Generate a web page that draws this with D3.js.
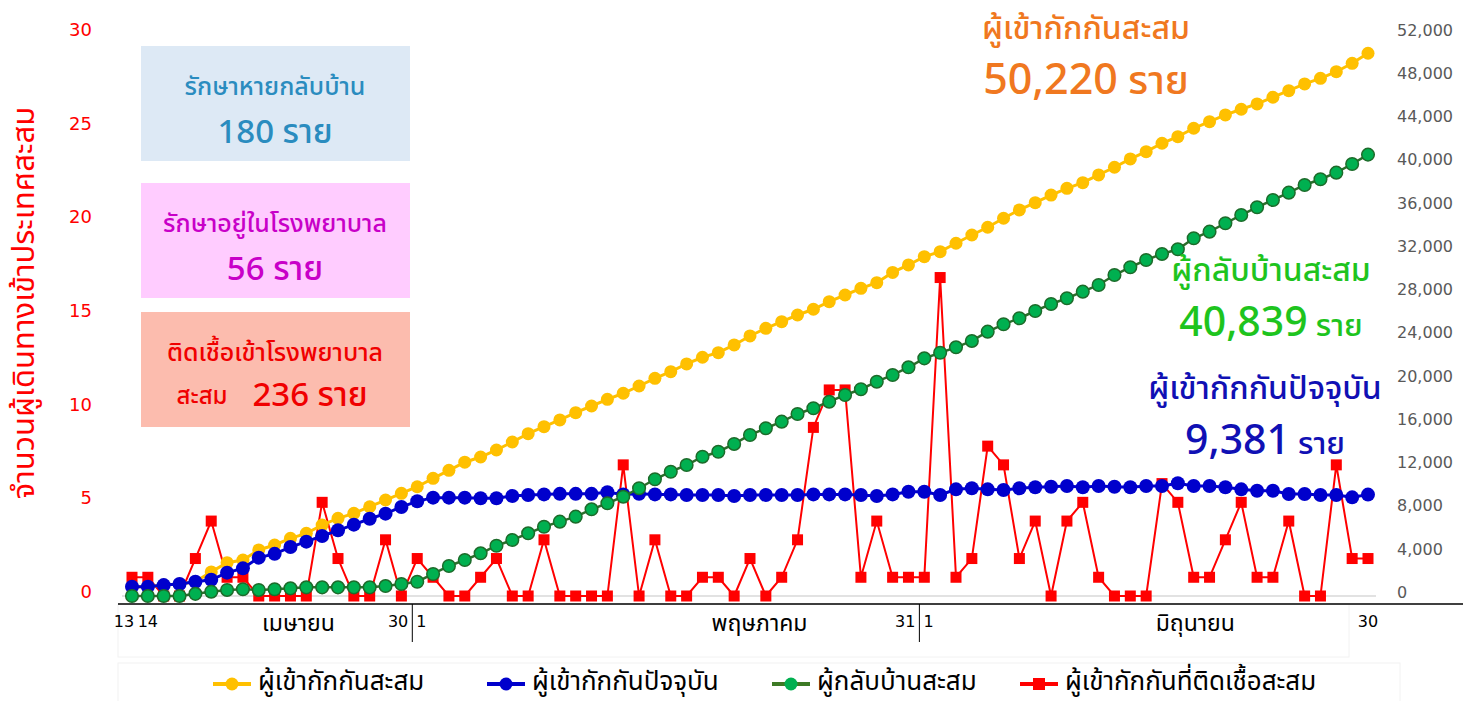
<!DOCTYPE html>
<html>
<head>
<meta charset="utf-8">
<title>ผู้เข้ากักกัน</title>
<script src="https://d3js.org/d3.v7.min.js"></script>
<style>
  body { margin: 0; background: #fff; }
  svg { display: block; }
  text { font-family: "Noto Sans Thai", "Leelawadee UI", Tahoma, "Noto Sans", "DejaVu Sans", sans-serif; }
</style>
</head>
<body>
<svg width="1468" height="701"></svg>
<script>
// ข้อมูลรายวัน 13 เม.ย. - 30 มิ.ย. (อ่านจากภาพ)
const quarantinedTotal = [
  860, 860, 1020, 1110, 1320, 2230, 3080, 3330, 4260, 4720,
  5340, 5800, 6570, 7190, 7650, 8260, 8880, 9500, 10110, 10890,
  11630, 12380, 12860, 13510, 14250, 15020, 15670, 16290, 16960, 17580,
  18200, 18760, 19430, 20140, 20760, 21470, 22090, 22510, 23230, 24060,
  24770, 25380, 26000, 26530, 27230, 27850, 28470, 28990, 29940, 30630,
  31400, 31860, 32640, 33400, 34120, 34950, 35720, 36390, 37100, 37720,
  38240, 38960, 39670, 40440, 41110, 41890, 42500, 43280, 43890, 44510,
  45040, 45530, 46150, 46760, 47380, 47900, 48510, 49290, 50220
];
const quarantinedNow = [
  860, 860, 1010, 1110, 1320, 1500, 2160, 2560, 3550, 3900,
  4530, 5030, 5550, 6080, 6600, 7150, 7620, 8240, 8760, 9100,
  9100, 9100, 9050, 9050, 9250, 9350, 9400, 9450, 9450, 9450,
  9600, 9400, 9450, 9400, 9400, 9350, 9350, 9350, 9250, 9350,
  9350, 9350, 9350, 9400, 9400, 9400, 9350, 9250, 9400, 9650,
  9650, 9350, 9870, 9970, 9870, 9810, 9970, 10060, 10110, 10180,
  10060, 10180, 10110, 10060, 10180, 10180, 10430, 10180, 10180, 10060,
  9870, 9740, 9740, 9440, 9440, 9350, 9350, 9130, 9381
];
const returnedHome = [
  0, 0, 0, 0, 200, 400, 560, 620, 560, 620,
  710, 800, 800, 800, 800, 800, 920, 1110, 1320, 2040,
  2780, 3330, 3950, 4650, 5180, 5800, 6410, 6880, 7340, 8020,
  8580, 9190, 9970, 10800, 11500, 12120, 12890, 13350, 14070, 14900,
  15520, 16130, 16840, 17370, 17980, 18600, 19130, 19830, 20450, 21160,
  21990, 22510, 23010, 23600, 24460, 25140, 25700, 26370, 27020, 27550,
  28160, 28780, 29700, 30420, 31090, 31650, 32080, 33100, 33710, 34490,
  35250, 35970, 36640, 37320, 38030, 38560, 39170, 39970, 40839
];
const infected = [
  1, 1, 0, 0, 2, 4, 1, 1, 0, 0,
  0, 0, 5, 2, 0, 0, 3, 0, 2, 1,
  0, 0, 1, 2, 0, 0, 3, 0, 0, 0,
  0, 7, 0, 3, 0, 0, 1, 1, 0, 2,
  0, 1, 3, 9, 11, 11, 1, 4, 1, 1,
  1, 17, 1, 2, 8, 7, 2, 4, 0, 4,
  5, 1, 0, 0, 0, 6, 5, 1, 1, 3,
  5, 1, 1, 4, 0, 0, 7, 2, 2
];

// ป้ายแกน
const dayTicks = [[0, "13"], [1, "14"], [17, "30"], [18, "1"], [49, "31"], [50, "1"], [78, "30"]];
const monthTicks = [[10.5, "เมษายน"], [39.6, "พฤษภาคม"], [67.1, "มิถุนายน"]];
const monthBreaks = [17.5, 49.5];
const leftTicks = [0, 5, 10, 15, 20, 25, 30];
const rightTicks = [0, 4000, 8000, 12000, 16000, 20000, 24000, 28000, 32000, 36000, 40000, 44000, 48000, 52000];

const seriesNames = ["ผู้เข้ากักกันสะสม", "ผู้เข้ากักกันปัจจุบัน", "ผู้กลับบ้านสะสม", "ผู้เข้ากักกันที่ติดเชื้อสะสม"];

const svg = d3.select("svg");
const n = quarantinedTotal.length;

const x = d3.scaleLinear().domain([0, n - 1]).range([132, 1368]);
const yL = d3.scaleLinear().domain([0, 30]).range([596, 34]);
const yR = d3.scaleLinear().domain([0, 52000]).range([596, 34]);

// กรอบจาง ๆ รอบป้ายแกน x และคำอธิบาย
svg.append("rect").attr("x", 118).attr("y", 604).attr("width", 1231).attr("height", 53)
  .attr("fill", "none").attr("stroke", "#f2f2f2");
svg.append("rect").attr("x", 118).attr("y", 663).attr("width", 1282).attr("height", 40)
  .attr("fill", "none").attr("stroke", "#f2f2f2");

// เส้นศูนย์
svg.append("line").attr("x1", 122).attr("x2", 1376).attr("y1", yL(0)).attr("y2", yL(0))
  .attr("stroke", "#d9d9d9").attr("stroke-width", 1.5);

// แกนซ้าย
const leftAxis = svg.append("g").attr("transform", "translate(96,0)")
  .call(d3.axisLeft(yL).tickValues(leftTicks).tickSize(0).tickPadding(4));
leftAxis.select(".domain").remove();
leftAxis.selectAll("text").attr("fill", "#ff0000").attr("font-size", 18).attr("dy", "0.08em")
  .style("font-family", "Verdana, 'DejaVu Sans', sans-serif");

// แกนขวา
const rightAxis = svg.append("g").attr("transform", "translate(1397,0)")
  .call(d3.axisRight(yR).tickValues(rightTicks).tickFormat(d3.format(",")).tickSize(0).tickPadding(0));
rightAxis.select(".domain").remove();
rightAxis.selectAll("text").attr("fill", "#595959").attr("font-size", 16).attr("dy", "0.08em")
  .style("font-family", "Verdana, 'DejaVu Sans', sans-serif");

// แกน x
const brkX = d => x(d) + 3;
svg.append("line").attr("x1", 118).attr("x2", 1463).attr("y1", 604).attr("y2", 604)
  .attr("stroke", "#000").attr("stroke-width", 1.5);
svg.selectAll(".brk").data(monthBreaks).join("line").attr("class", "brk")
  .attr("x1", brkX).attr("x2", brkX).attr("y1", 604).attr("y2", 642)
  .attr("stroke", "#000").attr("stroke-width", 1);
svg.selectAll(".day").data(dayTicks).join("text").attr("class", "day")
  .each(function (d) {
    const t = d3.select(this);
    if (monthBreaks.includes(d[0] + 0.5)) {
      t.attr("x", brkX(d[0] + 0.5) - 4).attr("text-anchor", "end");
    } else if (monthBreaks.includes(d[0] - 0.5)) {
      t.attr("x", brkX(d[0] - 0.5) + 4).attr("text-anchor", "start");
    } else {
      t.attr("x", x(d[0]) + (d[0] === 0 ? -8 : 0)).attr("text-anchor", "middle");
    }
  })
  .attr("y", 627).attr("font-size", 16).attr("fill", "#000")
  .style("font-family", "Tahoma, 'DejaVu Sans', sans-serif")
  .text(d => d[1]);
svg.selectAll(".month").data(monthTicks).join("text").attr("class", "month")
  .attr("x", d => x(d[0])).attr("y", 631)
  .attr("text-anchor", "middle").attr("font-size", 23).attr("fill", "#000")
  .text(d => d[1]);

// ชื่อแกนซ้าย
svg.append("text").attr("transform", "translate(34,303) rotate(-90)")
  .attr("text-anchor", "middle").attr("font-size", 31).attr("fill", "#ff0000")
  .text("จำนวนผู้เดินทางเข้าประเทศสะสม");

// เส้นข้อมูล
const idx = d3.range(n);
function drawLine(values, y, color, width) {
  svg.append("path").datum(idx)
    .attr("fill", "none").attr("stroke", color).attr("stroke-width", width)
    .attr("d", d3.line().x(i => x(i)).y(i => y(values[i])));
}

// ติดเชื้อ (สี่เหลี่ยมแดง)
drawLine(infected, yL, "#ff0000", 2);
svg.append("g").selectAll("rect").data(idx).join("rect")
  .attr("x", i => x(i) - 5.5).attr("y", i => yL(infected[i]) - 5.5)
  .attr("width", 11).attr("height", 11).attr("fill", "#ff0000");

// สะสม (เหลือง)
drawLine(quarantinedTotal, yR, "#ffc000", 3);
svg.append("g").selectAll("circle").data(idx).join("circle")
  .attr("cx", i => x(i)).attr("cy", i => yR(quarantinedTotal[i])).attr("r", 6.5)
  .attr("fill", "#ffc000");

// ปัจจุบัน (น้ำเงิน)
drawLine(quarantinedNow, yR, "#0000cc", 3);
svg.append("g").selectAll("circle").data(idx).join("circle")
  .attr("cx", i => x(i)).attr("cy", i => yR(quarantinedNow[i])).attr("r", 7)
  .attr("fill", "#0000cc");

// กลับบ้าน (เขียว)
drawLine(returnedHome, yR, "#2b6e2b", 2.5);
svg.append("g").selectAll("circle").data(idx).join("circle")
  .attr("cx", i => x(i)).attr("cy", i => yR(returnedHome[i])).attr("r", 6.3)
  .attr("fill", "#00b050").attr("stroke", "#1d6b2a").attr("stroke-width", 1.5);

// กล่องสรุป
const boxes = [
  { y: 46, fill: "#dde9f5", color: "#2a8cbf", line1: "รักษาหายกลับบ้าน", num: "180 ราย" },
  { y: 183, fill: "#ffccff", color: "#c800c8", line1: "รักษาอยู่ในโรงพยาบาล", num: "56 ราย" },
  { y: 312, fill: "#fcbcae", color: "#f00000", line1: "ติดเชื้อเข้าโรงพยาบาล", num: "236 ราย", pre: "สะสม" }
];
boxes.forEach(b => {
  const g = svg.append("g").attr("transform", `translate(141,${b.y})`);
  g.append("rect").attr("width", 269).attr("height", 115).attr("fill", b.fill);
  g.append("text").attr("x", 134).attr("y", 49).attr("text-anchor", "middle")
    .attr("font-size", 25).attr("font-weight", 500).attr("fill", b.color).text(b.line1);
  if (b.pre) {
    g.append("text").attr("x", 61).attr("y", 92).attr("text-anchor", "middle")
      .attr("font-size", 24).attr("font-weight", 500).attr("fill", b.color).text(b.pre);
    g.append("text").attr("x", 169).attr("y", 94).attr("text-anchor", "middle")
      .attr("font-size", 33).attr("font-weight", 500).attr("fill", b.color).text(b.num);
  } else {
    g.append("text").attr("x", 134).attr("y", 97).attr("text-anchor", "middle")
      .attr("font-size", 33).attr("font-weight", 500).attr("fill", b.color).text(b.num);
  }
});

// ป้ายกำกับด้านขวา
function note(cx, y1, title, num, unit, color, numSize, unitSize) {
  svg.append("text").attr("x", cx).attr("y", y1).attr("text-anchor", "middle")
    .attr("font-size", 32).attr("font-weight", 500).attr("fill", color).text(title);
  const t = svg.append("text").attr("x", cx).attr("y", y1 + 55).attr("text-anchor", "middle")
    .attr("font-weight", 500).attr("fill", color);
  t.append("tspan").attr("font-size", numSize).text(num);
  t.append("tspan").attr("font-size", unitSize).text(unit);
}
note(1086, 39, "ผู้เข้ากักกันสะสม", d3.format(",")(quarantinedTotal[n - 1]), " ราย", "#f07820", 43, 40);
note(1271, 281, "ผู้กลับบ้านสะสม", d3.format(",")(returnedHome[n - 1]), "  ราย", "#1ec41e", 41, 31);
note(1265, 399, "ผู้เข้ากักกันปัจจุบัน", d3.format(",")(quarantinedNow[n - 1]), "  ราย", "#1010b4", 41, 31);

// คำอธิบายสัญลักษณ์
const legend = [
  { x: 213, color: "#ffc000", shape: "circle" },
  { x: 487, color: "#0000cc", shape: "circle" },
  { x: 772, color: "#3d7a25", fill: "#00b050", shape: "circle" },
  { x: 1020, color: "#ff0000", shape: "rect" }
];
legend.forEach((l, i) => {
  const g = svg.append("g").attr("transform", `translate(${l.x},684)`);
  g.append("line").attr("x1", 0).attr("x2", 38).attr("stroke", l.color).attr("stroke-width", 4);
  if (l.shape === "circle") {
    g.append("circle").attr("cx", 19).attr("r", 6.5).attr("fill", l.fill || l.color);
  } else {
    g.append("rect").attr("x", 13).attr("y", -6).attr("width", 12).attr("height", 12).attr("fill", l.color);
  }
  g.append("text").attr("x", 45).attr("y", 6).attr("font-size", 26).attr("fill", "#000").text(seriesNames[i]);
});
</script>
</body>
</html>
